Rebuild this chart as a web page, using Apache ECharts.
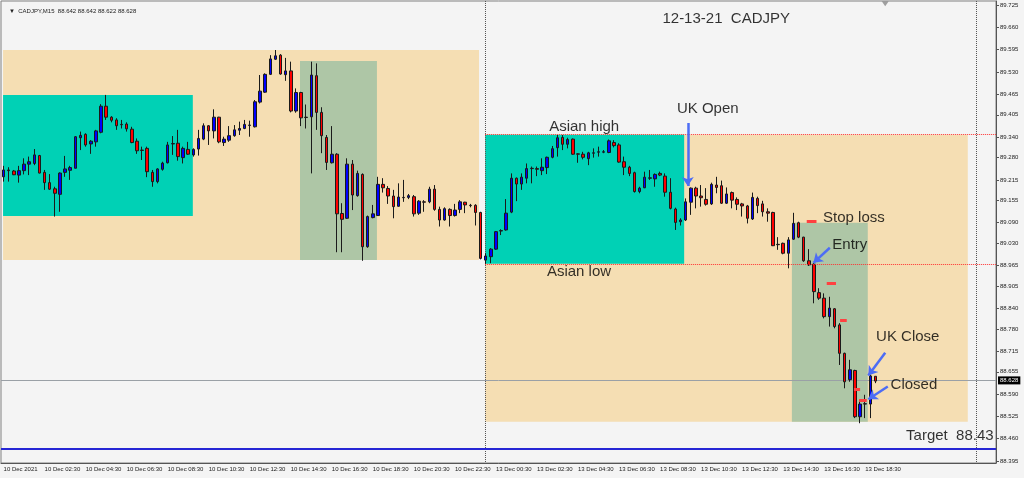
<!DOCTYPE html>
<html>
<head>
<meta charset="utf-8">
<title>CADJPY M15</title>
<script src="https://cdn.jsdelivr.net/npm/echarts@6.0.0/dist/echarts.min.js"></script>
<style>
  html, body { margin: 0; padding: 0; background: #f4f4f4; }
  #chart { width: 1024px; height: 478px; }
</style>
</head>
<body>
<div id="chart"></div>
<script>
// M15 bars, [open, high, low, close], 10 Dec 00:30 .. 13 Dec 18:30
const ohlc = [
  [89.224, 89.256, 89.210, 89.244], [89.244, 89.252, 89.210, 89.242], [89.241, 89.244, 89.229, 89.230],
  [89.229, 89.256, 89.207, 89.242], [89.242, 89.278, 89.231, 89.261], [89.261, 89.283, 89.229, 89.268],
  [89.263, 89.305, 89.258, 89.288], [89.286, 89.288, 89.234, 89.235], [89.237, 89.244, 89.186, 89.207],
  [89.207, 89.232, 89.186, 89.188], [89.189, 89.195, 89.108, 89.176], [89.173, 89.237, 89.122, 89.235],
  [89.237, 89.285, 89.224, 89.247], [89.243, 89.256, 89.215, 89.251], [89.249, 89.343, 89.249, 89.341],
  [89.338, 89.356, 89.302, 89.345], [89.348, 89.351, 89.312, 89.317], [89.320, 89.331, 89.291, 89.328],
  [89.326, 89.361, 89.312, 89.358], [89.354, 89.436, 89.351, 89.430], [89.430, 89.463, 89.390, 89.398],
  [89.398, 89.401, 89.383, 89.389], [89.390, 89.395, 89.361, 89.373], [89.377, 89.390, 89.365, 89.376],
  [89.378, 89.383, 89.356, 89.364], [89.363, 89.370, 89.322, 89.324], [89.328, 89.336, 89.291, 89.300],
  [89.302, 89.312, 89.273, 89.301], [89.307, 89.312, 89.223, 89.239], [89.237, 89.244, 89.195, 89.210],
  [89.210, 89.249, 89.205, 89.247], [89.246, 89.268, 89.242, 89.264], [89.265, 89.326, 89.263, 89.317],
  [89.320, 89.343, 89.288, 89.321], [89.322, 89.361, 89.271, 89.283], [89.280, 89.312, 89.263, 89.307],
  [89.304, 89.326, 89.288, 89.290], [89.288, 89.307, 89.283, 89.304], [89.305, 89.361, 89.286, 89.336],
  [89.334, 89.380, 89.331, 89.373], [89.373, 89.375, 89.317, 89.358], [89.358, 89.421, 89.336, 89.398],
  [89.398, 89.399, 89.322, 89.326], [89.324, 89.341, 89.314, 89.334], [89.331, 89.372, 89.326, 89.344],
  [89.344, 89.375, 89.341, 89.361], [89.360, 89.385, 89.346, 89.365], [89.365, 89.390, 89.363, 89.377],
  [89.374, 89.388, 89.341, 89.375], [89.370, 89.448, 89.368, 89.443], [89.442, 89.521, 89.438, 89.474],
  [89.471, 89.526, 89.469, 89.523], [89.523, 89.579, 89.521, 89.568], [89.567, 89.594, 89.565, 89.577],
  [89.579, 89.582, 89.522, 89.524], [89.522, 89.571, 89.504, 89.533], [89.533, 89.560, 89.412, 89.416],
  [89.416, 89.482, 89.411, 89.470], [89.470, 89.472, 89.372, 89.396], [89.398, 89.435, 89.365, 89.397],
  [89.399, 89.560, 89.234, 89.521], [89.519, 89.555, 89.361, 89.412], [89.412, 89.427, 89.293, 89.344],
  [89.339, 89.346, 89.244, 89.266], [89.265, 89.372, 89.263, 89.290], [89.290, 89.293, 89.004, 89.116],
  [89.117, 89.147, 89.004, 89.100], [89.103, 89.278, 89.101, 89.261], [89.261, 89.273, 89.127, 89.171],
  [89.169, 89.242, 89.166, 89.234], [89.231, 89.234, 88.979, 89.020], [89.020, 89.111, 89.017, 89.108],
  [89.105, 89.142, 89.103, 89.116], [89.111, 89.224, 89.110, 89.202], [89.202, 89.220, 89.178, 89.192],
  [89.190, 89.197, 89.145, 89.168], [89.168, 89.186, 89.103, 89.137], [89.138, 89.205, 89.137, 89.165],
  [89.164, 89.215, 89.151, 89.163], [89.164, 89.174, 89.159, 89.169], [89.166, 89.171, 89.108, 89.116],
  [89.118, 89.156, 89.113, 89.153], [89.151, 89.156, 89.122, 89.150], [89.151, 89.195, 89.147, 89.188],
  [89.188, 89.200, 89.125, 89.129], [89.129, 89.137, 89.079, 89.098], [89.098, 89.135, 89.096, 89.131],
  [89.129, 89.132, 89.079, 89.111], [89.111, 89.145, 89.108, 89.127], [89.129, 89.156, 89.118, 89.151],
  [89.150, 89.151, 89.118, 89.142], [89.141, 89.145, 89.135, 89.140], [89.141, 89.144, 89.082, 89.120],
  [89.120, 89.122, 88.983, 88.986],
  // 13 Dec
  [88.981, 89.001, 88.970, 88.993], [88.991, 89.016, 88.972, 89.013], [89.013, 89.066, 89.011, 89.064],
  [89.066, 89.071, 89.054, 89.067], [89.069, 89.159, 89.067, 89.118], [89.121, 89.234, 89.118, 89.220],
  [89.220, 89.222, 89.153, 89.203], [89.203, 89.234, 89.186, 89.223], [89.220, 89.263, 89.205, 89.248],
  [89.248, 89.254, 89.205, 89.249], [89.248, 89.254, 89.226, 89.246], [89.242, 89.278, 89.229, 89.252],
  [89.251, 89.283, 89.232, 89.281], [89.281, 89.314, 89.278, 89.306], [89.309, 89.346, 89.283, 89.338],
  [89.339, 89.346, 89.302, 89.319], [89.319, 89.338, 89.307, 89.333], [89.334, 89.336, 89.288, 89.290],
  [89.291, 89.293, 89.265, 89.290], [89.290, 89.297, 89.275, 89.281], [89.277, 89.297, 89.258, 89.294],
  [89.293, 89.307, 89.280, 89.294], [89.296, 89.312, 89.283, 89.297], [89.296, 89.302, 89.293, 89.297],
  [89.295, 89.333, 89.293, 89.329], [89.324, 89.331, 89.310, 89.315], [89.317, 89.322, 89.265, 89.267],
  [89.268, 89.283, 89.229, 89.252], [89.252, 89.256, 89.226, 89.234], [89.236, 89.239, 89.178, 89.181],
  [89.181, 89.195, 89.176, 89.191], [89.192, 89.239, 89.191, 89.223], [89.220, 89.244, 89.215, 89.221],
  [89.218, 89.234, 89.195, 89.231], [89.234, 89.239, 89.226, 89.229], [89.226, 89.234, 89.166, 89.179],
  [89.179, 89.220, 89.129, 89.132], [89.130, 89.134, 89.069, 89.091], [89.093, 89.103, 89.082, 89.098],
  [89.098, 89.161, 89.095, 89.151], [89.150, 89.193, 89.113, 89.191], [89.191, 89.195, 89.132, 89.168],
  [89.168, 89.200, 89.137, 89.163], [89.158, 89.191, 89.140, 89.144], [89.145, 89.207, 89.142, 89.202],
  [89.200, 89.224, 89.176, 89.193], [89.198, 89.213, 89.145, 89.147], [89.147, 89.193, 89.145, 89.174],
  [89.178, 89.181, 89.132, 89.156], [89.158, 89.164, 89.127, 89.144], [89.145, 89.148, 89.108, 89.139],
  [89.139, 89.142, 89.088, 89.103], [89.101, 89.178, 89.098, 89.164], [89.161, 89.166, 89.118, 89.140],
  [89.145, 89.154, 89.108, 89.122], [89.122, 89.132, 89.093, 89.118], [89.120, 89.122, 89.022, 89.023],
  [89.027, 89.048, 89.011, 89.026], [89.030, 89.032, 88.998, 89.001], [89.001, 89.048, 88.957, 89.040],
  [89.042, 89.119, 89.040, 89.088], [89.090, 89.093, 89.045, 89.048], [89.048, 89.049, 88.976, 88.979],
  [88.979, 89.013, 88.964, 88.967], [88.969, 88.972, 88.855, 88.889], [88.886, 88.899, 88.865, 88.870],
  [88.870, 88.884, 88.811, 88.816], [88.816, 88.874, 88.787, 88.841], [88.839, 88.841, 88.782, 88.787],
  [88.792, 88.797, 88.675, 88.709], [88.709, 88.711, 88.607, 88.626], [88.632, 88.690, 88.626, 88.661],
  [88.659, 88.661, 88.520, 88.524], [88.524, 88.573, 88.505, 88.561], [88.561, 88.588, 88.520, 88.562],
  [88.561, 88.646, 88.520, 88.643], [88.642, 88.642, 88.622, 88.628]
];

const slotCount = 194;          // bars + empty chart shift on the right
const firstMondayBar = 94;      // 13 Dec 00:00
const tickLabels = [
  '10 Dec 2021', '10 Dec 02:30', '10 Dec 04:30', '10 Dec 06:30', '10 Dec 08:30', '10 Dec 10:30',
  '10 Dec 12:30', '10 Dec 14:30', '10 Dec 16:30', '10 Dec 18:30', '10 Dec 20:30', '10 Dec 22:30',
  '13 Dec 00:30', '13 Dec 02:30', '13 Dec 04:30', '13 Dec 06:30', '13 Dec 08:30', '13 Dec 10:30',
  '13 Dec 12:30', '13 Dec 14:30', '13 Dec 16:30', '13 Dec 18:30'
];
const priceTicks = [
  89.725, 89.660, 89.595, 89.530, 89.465, 89.405, 89.340, 89.280, 89.215, 89.155, 89.090,
  89.030, 88.965, 88.905, 88.840, 88.780, 88.715, 88.655, 88.590, 88.525, 88.460, 88.395
];
const yMin = 88.389, yMax = 89.737;
const asianHigh = 89.347, asianLow = 88.970, target = 88.43, bid = 88.628;

// zones: [barFrom, barTo, priceTop, priceBottom, kind]  kind 0 tan, 1 cyan, 2 green
const zones = [
  [-0.1, 92.7, 89.594, 88.981, 0],
  [-0.1, 36.9, 89.463, 89.110, 1],
  [57.8, 72.8, 89.562, 88.981, 2],
  [93.9, 188.0, asianHigh, 88.509, 0],
  [93.9, 132.7, asianHigh, asianLow, 1],
  [153.7, 168.5, 89.090, 88.509, 2]
];
const zoneColors = ['#f5deb3', '#00d1b5', '#aec6a6'];
const separators = [93.9, 189.6];
const arrows = [
  [[133.4, 89.381], [133.4, 89.197]],
  [[161.1, 89.017], [157.9, 88.973]],
  [[171.9, 88.711], [168.6, 88.644]],
  [[172.4, 88.612], [168.6, 88.575]]
];
const levelMarks = [
  [156.6, 158.5, 89.095], [160.5, 162.3, 88.914], [163.1, 164.4, 88.806],
  [165.8, 167.0, 88.605], [166.8, 168.3, 88.573]
];
const notes = [
  ['12-13-21  CADJPY', 140.9, 89.684],
  ['Asian high', 113.2, 89.369],
  ['Asian low', 112.2, 88.946],
  ['UK Open', 137.3, 89.422],
  ['Stop loss', 165.8, 89.104],
  ['Entry', 165.0, 89.025],
  ['UK Close', 176.3, 88.757],
  ['Closed', 177.5, 88.617],
  ['Target  88.43', 184.5, 88.468]
];

const categories = [];
for (let i = 0; i < slotCount; i++) {
  const mins = i < firstMondayBar ? 30 + 15 * i : 15 * (i - firstMondayBar);
  const day = (i < firstMondayBar ? 10 : 13) + Math.floor(mins / 1440);
  const m = mins % 1440;
  categories.push(day + ' Dec ' + String(Math.floor(m / 60)).padStart(2, '0') + ':' + String(m % 60).padStart(2, '0'));
}

const chart = echarts.init(document.getElementById('chart'));
const small = { fontFamily: 'Liberation Sans', fontSize: 6, color: '#222' };
const big = { fontFamily: 'Liberation Sans', fontSize: 15, color: '#000' };

const option = {
  backgroundColor: '#f4f4f4',
  animation: false,
  title: {
    text: '\u25BC  CADJPY,M15  88.642 88.642 88.622 88.628',
    left: 4, top: 3,
    textStyle: Object.assign({ fontWeight: 'normal' }, small)
  },
  grid: {
    left: 1, right: 28, top: 1, bottom: 15,
    show: true, backgroundColor: '#f4f4f4', borderColor: '#808080', borderWidth: 1
  },
  xAxis: [
    {
      type: 'category',
      data: categories,
      boundaryGap: true,
      axisLine: { onZero: false, lineStyle: { color: '#555' } },
      axisTick: { alignWithLabel: true, length: 3, interval: (i) => i % 8 === 0 && i <= 168, lineStyle: { color: '#555' } },
      axisLabel: Object.assign({
        interval: (i) => i % 8 === 0 && i <= 168,
        formatter: (v, i) => tickLabels[i / 8],
        align: 'left', margin: 3
      }, small),
      splitLine: { show: false }
    },
    { type: 'value', min: -0.5, max: slotCount - 0.5, show: false }
  ],
  yAxis: {
    type: 'value',
    position: 'right',
    min: yMin, max: yMax,
    axisLine: { show: true, onZero: false, lineStyle: { color: '#555' } },
    axisTick: { show: true, length: 3, customValues: priceTicks, lineStyle: { color: '#555' } },
    axisLabel: Object.assign({ customValues: priceTicks, formatter: (v) => v.toFixed(3), margin: 4 }, small),
    splitLine: { show: false }
  },
  series: [
    {
      type: 'custom',
      xAxisIndex: 1,
      z: 1,
      silent: true,
      data: zones,
      encode: { x: [0, 1], y: [2, 3] },
      renderItem: (params, api) => {
        const a = api.coord([api.value(0), api.value(2)]);
        const b = api.coord([api.value(1), api.value(3)]);
        return {
          type: 'rect',
          shape: { x: a[0], y: a[1], width: b[0] - a[0], height: b[1] - a[1] },
          style: { fill: zoneColors[api.value(4)] }
        };
      }
    },
    {
      type: 'lines',
      coordinateSystem: 'cartesian2d',
      xAxisIndex: 1,
      z: 2,
      lineStyle: { color: '#555', width: 1, type: 'dotted', opacity: 1 },
      data: separators.map(x => ({ coords: [[x, yMax], [x, yMin]] }))
    },
    {
      type: 'candlestick',
      z: 5,
      barWidth: 3,
      data: ohlc.map(r => [r[0], r[3], r[2], r[1]]),
      itemStyle: { color: '#0000ff', color0: '#ff0000', borderColor: '#1a1a1a', borderColor0: '#1a1a1a', borderWidth: 1 },
      markLine: {
        silent: true,
        symbol: 'none',
        lineStyle: { color: '#9aa0a6', width: 1, type: 'solid' },
        label: {
          position: 'end', distance: 2, formatter: bid.toFixed(3),
          fontFamily: 'Liberation Sans', fontSize: 6, color: '#fff', backgroundColor: '#000', padding: [1, 2]
        },
        data: [{ yAxis: bid }]
      }
    },
    {
      type: 'lines',
      coordinateSystem: 'cartesian2d',
      xAxisIndex: 1,
      z: 6,
      lineStyle: { color: '#ff3030', width: 1, type: 'dotted', opacity: 1 },
      data: [asianHigh, asianLow].map(p => ({ coords: [[93.9, p], [slotCount - 0.5, p]] }))
    },
    {
      type: 'lines',
      coordinateSystem: 'cartesian2d',
      xAxisIndex: 1,
      z: 6,
      lineStyle: { color: '#2626d4', width: 2, opacity: 1 },
      data: [{ coords: [[-0.5, target], [slotCount - 0.5, target]] }]
    },
    {
      type: 'lines',
      coordinateSystem: 'cartesian2d',
      xAxisIndex: 1,
      z: 7,
      lineStyle: { color: '#ff4040', width: 3, opacity: 1 },
      data: levelMarks.map(m => ({ coords: [[m[0], m[2]], [m[1], m[2]]] }))
    },
    {
      type: 'lines',
      coordinateSystem: 'cartesian2d',
      xAxisIndex: 1,
      z: 8,
      symbol: ['none', 'arrow'],
      symbolSize: 9,
      lineStyle: { color: '#4d6df5', width: 2.5, opacity: 1 },
      data: arrows.map(a => ({ coords: a }))
    },
    {
      type: 'scatter',
      xAxisIndex: 1,
      z: 9,
      symbolSize: 1,
      itemStyle: { color: 'rgba(0,0,0,0)' },
      label: Object.assign({ show: true, position: 'inside', formatter: '{b}' }, big),
      data: notes.map(n => ({ name: n[0], value: [n[1], n[2]] }))
    },
    {
      type: 'scatter',
      xAxisIndex: 1,
      z: 9,
      symbol: 'triangle',
      symbolRotate: 180,
      symbolSize: [7, 5],
      itemStyle: { color: '#8a8a8a' },
      data: [[171.9, 89.729]]
    }
  ]
};

chart.setOption(option);
</script>
</body>
</html>
